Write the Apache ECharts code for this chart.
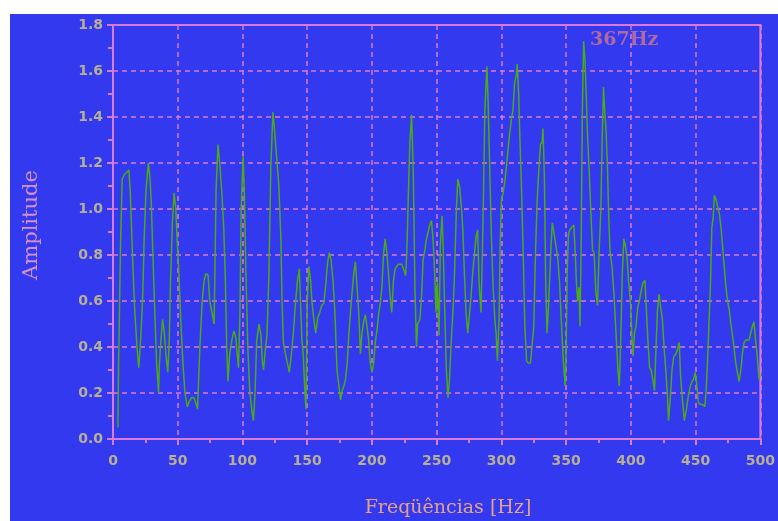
<!DOCTYPE html>
<html>
<head>
<meta charset="utf-8">
<script src="https://cdn.jsdelivr.net/npm/echarts@6/dist/echarts.min.js"></script>
<style>
html,body{margin:0;padding:0;background:#ffffff;width:778px;height:521px;overflow:hidden;}
#c{position:absolute;left:10px;top:14px;width:768px;height:507px;}
</style>
</head>
<body>
<div id="c"></div>
<script>
// Frequency (Hz) of each sampled point
const freqs = [
3.8,4.3,5.9,7.1,8.9,10.7,12.2,13.3,14.3,15.3,16.6,18.4,19.9,20.9,21.7,23.0,24.0,25.5,27.3,28.6,
29.6,30.6,32.1,33.7,35.2,35.7,37.0,38.3,39.5,40.8,42.3,43.4,44.4,45.9,47.2,48.5,49.5,51.0,52.3,54.1,
55.6,57.4,58.7,60.7,62.5,63.8,65.3,65.8,67.1,68.9,70.4,71.9,73.5,74.7,76.5,78.1,78.6,79.6,81.1,82.4,
84.2,85.5,86.7,87.8,88.8,90.1,91.8,93.4,94.9,95.9,96.9,98.0,99.0,100.5,101.5,102.6,104.1,105.6,107.1,108.4,
109.7,111.0,112.8,114.3,115.3,116.3,117.3,118.9,120.4,121.9,123.5,124.5,126.3,128.1,129.6,130.6,131.6,133.2,134.7,136.2,
137.8,139.3,140.8,142.3,143.9,144.9,145.9,146.9,148.0,149.0,150.0,151.3,152.6,153.6,155.1,156.6,158.2,159.7,161.2,162.8,
164.3,165.8,167.1,168.4,169.9,171.4,173.0,
175.8,177.0,178.3,179.6,180.9,182.1,183.4,184.7,186.0,187.2,188.5,189.8,191.1,192.3,193.6,194.9,196.2,197.4,198.7,200.0,
201.3,202.6,203.8,205.1,206.4,207.7,208.9,210.2,211.5,212.8,214.0,215.3,216.6,217.9,220.4,223.0,225.0,226.0,227.0,228.1,
229.3,230.6,231.9,233.2,234.4,235.2,237.0,238.3,239.5,240.8,242.1,243.4,244.6,245.9,247.2,248.5,249.5,250.5,251.8,252.8,
254.1,255.1,256.1,257.4,258.7,259.9,261.2,262.5,263.8,265.1,266.3,267.6,268.9,270.2,271.4,272.7,274.0,275.3,276.5,277.8,
279.1,280.4,281.6,282.9,284.2,285.5,286.2,287.2,288.8,289.8,291.1,292.3,293.6,294.9,295.9,296.9,298.2,299.0,300.0,301.3,
302.6,303.8,305.1,306.4,307.7,308.9,310.2,311.5,312.2,313.3,314.3,315.6,316.8,318.1,319.4,320.7,322.4,323.7,325.0,326.3,
327.6,328.8,330.1,331.4,332.1,333.2,334.2,335.2,336.2,337.2,338.3,339.3,
342.4,343.6,344.9,346.2,347.5,348.2,349.2,350.0,350.8,351.8,352.8,354.3,355.9,356.9,357.9,358.9,359.9,360.7,361.5,362.5,
363.5,364.5,365.5,366.5,367.8,369.1,370.4,371.6,372.9,374.2,375.4,376.7,377.7,378.8,379.8,380.8,381.8,382.8,383.8,385.4,
386.9,388.4,389.9,391.0,392.0,393.3,394.5,395.8,397.1,398.3,399.6,400.9,401.7,402.7,403.9,405.2,406.5,407.8,409.3,410.8,
411.8,413.1,414.4,415.6,416.9,418.2,419.2,420.5,421.8,423.0,424.3,425.6,426.8,428.1,429.1,430.7,431.7,433.2,434.7,436.0,
437.3,438.5,439.8,441.3,442.9,444.4,445.9,447.2,448.5,449.5,450.5,452.0,453.6,455.6,457.1,458.1,459.2,460.2,461.5,462.5,
463.5,464.5,465.8,467.0,468.3,469.6,470.9,472.1,473.4,474.7,476.0,477.2,478.5,479.8,481.0,482.3,483.6,484.9,486.1,487.4,
488.7,490.0,491.2,492.5,493.8,495.0,496.3,497.6,498.9,499.7
];
// Amplitude at each frequency
const amps = [
0.05,0.32,0.87,1.13,1.15,1.16,1.17,1.08,0.92,0.76,0.58,0.41,0.31,0.39,0.47,0.63,0.86,1.08,1.20,1.13,
1.02,0.84,0.58,0.33,0.20,0.31,0.43,0.52,0.47,0.37,0.29,0.42,0.68,0.94,1.07,1.00,0.87,0.71,0.52,0.32,
0.20,0.14,0.16,0.18,0.18,0.16,0.13,0.21,0.40,0.60,0.69,0.72,0.71,0.60,0.55,0.50,0.68,1.08,1.28,1.20,
1.06,0.92,0.71,0.41,0.25,0.37,0.43,0.47,0.44,0.37,0.31,0.53,1.00,1.23,1.06,0.74,0.40,0.21,0.13,0.08,
0.20,0.43,0.50,0.45,0.34,0.30,0.37,0.45,0.71,1.18,1.42,1.36,1.23,1.10,0.88,0.59,0.42,0.37,0.33,0.29,
0.37,0.46,0.58,0.68,0.74,0.58,0.43,0.37,0.23,0.13,0.59,0.75,0.69,0.60,0.52,0.46,0.53,0.55,0.58,0.59,
0.67,0.77,0.81,0.78,0.69,0.55,0.30,
0.17,0.21,0.23,0.26,0.33,0.45,0.55,0.64,0.72,0.77,0.66,0.55,0.37,0.46,0.51,0.54,0.49,0.43,0.33,0.29,
0.33,0.42,0.47,0.54,0.59,0.66,0.80,0.87,0.81,0.72,0.62,0.55,0.69,0.74,0.76,0.76,0.73,0.71,0.82,1.06,
1.29,1.41,1.16,0.66,0.40,0.50,0.52,0.62,0.78,0.82,0.87,0.90,0.93,0.95,0.87,0.71,0.55,0.68,0.45,0.84,
0.97,0.81,0.58,0.31,0.18,0.26,0.42,0.55,0.72,0.98,1.13,1.10,1.02,0.91,0.72,0.55,0.46,0.54,0.62,0.72,
0.80,0.88,0.91,0.66,0.55,0.87,1.08,1.43,1.62,1.45,1.14,0.87,0.66,0.52,0.46,0.34,0.52,0.84,1.04,1.07,
1.12,1.18,1.26,1.33,1.39,1.43,1.55,1.58,1.63,1.50,1.30,1.07,0.81,0.49,0.34,0.33,0.33,0.33,0.49,0.81,
1.04,1.16,1.28,1.29,1.35,1.13,0.68,0.46,0.56,0.69,0.84,0.94,
0.83,0.78,0.68,0.52,0.37,0.31,0.23,0.39,0.73,0.89,0.91,0.92,0.93,0.82,0.68,0.60,0.66,0.49,0.81,1.42,
1.73,1.65,1.49,1.32,1.16,0.98,0.82,0.81,0.64,0.58,0.81,0.98,1.27,1.53,1.42,1.34,1.20,0.98,0.82,0.75,
0.63,0.47,0.31,0.23,0.40,0.71,0.87,0.84,0.78,0.68,0.60,0.43,0.36,0.46,0.49,0.57,0.60,0.64,0.68,0.69,
0.58,0.43,0.31,0.30,0.26,0.21,0.37,0.56,0.63,0.57,0.52,0.40,0.31,0.20,0.08,0.20,0.30,0.36,0.37,0.39,
0.42,0.26,0.17,0.08,0.13,0.19,0.23,0.25,0.26,0.29,0.26,0.16,0.15,0.15,0.14,0.21,0.34,0.49,0.68,0.92,
0.96,1.06,1.04,1.01,0.98,0.92,0.83,0.75,0.66,0.60,0.56,0.50,0.45,0.39,0.33,0.29,0.25,0.30,0.37,0.42,
0.43,0.43,0.43,0.46,0.49,0.51,0.43,0.36,0.26,0.28
];
const xTicks = [0,50,100,150,200,250,300,350,400,450,500];
const yTicks = ['0.0','0.2','0.4','0.6','0.8','1.0','1.2','1.4','1.6','1.8'];
const xTitle = 'Freqüências [Hz]';
const yTitle = 'Amplitude';
const peakLabel = '367Hz';

const pink = '#d87ad8';
const labelColor = '#b8b094';
const data = freqs.map((f, i) => [f, amps[i]]);

const chart = echarts.init(document.getElementById('c'), null, {renderer: 'canvas'});
chart.setOption({
  backgroundColor: '#3339ee',
  animation: false,
  grid: {left: 103, top: 11, right: 13, bottom: 82, show: true, borderColor: pink, borderWidth: 2, backgroundColor: 'transparent'},
  xAxis: {
    type: 'value', min: xTicks[0], max: xTicks[xTicks.length - 1], interval: 50,
    axisLine: {lineStyle: {color: pink, width: 2}},
    axisTick: {show: true, length: 6, lineStyle: {color: pink, width: 2}},
    minorTick: {show: true, splitNumber: 2, length: 4, lineStyle: {color: pink, width: 2}},
    splitLine: {show: true, lineStyle: {color: pink, width: 1.5, type: [5, 4]}},
    axisLabel: {color: labelColor, fontFamily: 'DejaVu Sans', fontWeight: 'bold', fontSize: 14, margin: 15}
  },
  yAxis: {
    type: 'value', min: 0, max: 1.8, interval: 0.2,
    axisLine: {show: true, lineStyle: {color: pink, width: 2}},
    axisTick: {show: true, length: 6, lineStyle: {color: pink, width: 2}},
    minorTick: {show: true, splitNumber: 2, length: 5, lineStyle: {color: pink, width: 2}},
    splitLine: {show: true, lineStyle: {color: pink, width: 1.5, type: [5, 4]}},
    axisLabel: {color: labelColor, fontFamily: 'DejaVu Sans', fontWeight: 'bold', fontSize: 14, margin: 10,
      formatter: (v) => yTicks[Math.round(v / 0.2)] || ''}
  },
  graphic: [
    {type: 'text', x: 22, y: 211, rotation: Math.PI / 2,
      style: {text: yTitle, fill: '#d890cc', font: '21px "DejaVu Serif"', textAlign: 'center', textVerticalAlign: 'middle'}},
    {type: 'text', x: 438, y: 494,
      style: {text: xTitle, fill: '#e6a088', font: '19px "DejaVu Serif"', textAlign: 'center', textVerticalAlign: 'middle'}},
    {type: 'text', x: 580, y: 26,
      style: {text: peakLabel, fill: '#b06aa0', font: 'bold 19px "DejaVu Serif"', textAlign: 'left', textVerticalAlign: 'middle'}}
  ],
  series: [{
    type: 'line', data: data, showSymbol: false, symbol: 'none',
    lineStyle: {color: '#4caa14', width: 1.5}
  }]
});
</script>
</body>
</html>
